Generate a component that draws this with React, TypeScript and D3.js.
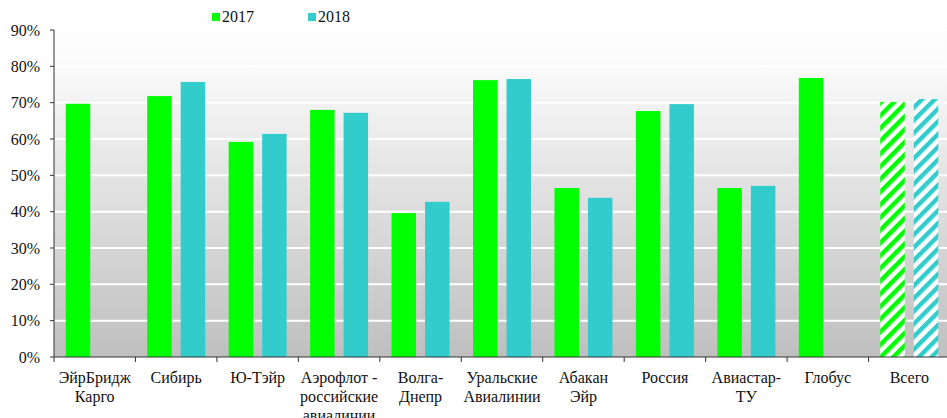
import React from "react";
import * as d3 from "d3";

const categories = [
  ["ЭйрБридж", "Карго"],
  ["Сибирь"],
  ["Ю-Тэйр"],
  ["Аэрофлот -", "российские", "авиалинии"],
  ["Волга-", "Днепр"],
  ["Уральские", "Авиалинии"],
  ["Абакан", "Эйр"],
  ["Россия"],
  ["Авиастар-", "ТУ"],
  ["Глобус"],
  ["Всего"],
];
const values2017: (number | null)[] = [69.7, 71.8, 59.2, 68.0, 39.6, 76.2, 46.5, 67.7, 46.5, 76.8, 70.2];
const values2018: (number | null)[] = [null, 75.7, 61.4, 67.2, 42.7, 76.5, 43.8, 69.6, 47.1, null, 71.0];
const yTicks = [0, 10, 20, 30, 40, 50, 60, 70, 80, 90];
const seriesNames = ["2017", "2018"];
const colors = ["#00ff00", "#33cccc"];

const W = 947;
const H = 418;
const left = 54;
const right = 950;
const top = 30;
const bottom = 357;

export default function App() {
  const x = d3.scaleBand<number>().domain(d3.range(categories.length)).range([left, right]).padding(0);
  const y = d3.scaleLinear().domain([0, 90]).range([bottom, top]);
  const bw = x.bandwidth();
  const barW = 24.5;
  const gap = 9;
  const outer = (bw - 2 * barW - gap) / 2;
  const font = "'Liberation Serif', serif";
  const ts = { fontFamily: font, fontSize: "16px" };
  const series = [values2017, values2018];
  const last = categories.length - 1;

  return (
    <svg width={W} height={H} style={{ position: "absolute", left: 0, top: 0 }}>
      <defs>
        <linearGradient id="bg" x1="0" y1="0" x2="0" y2="1">
          <stop offset="0" stopColor="#ffffff" />
          <stop offset="0.15" stopColor="#fbfbfb" />
          <stop offset="1" stopColor="#bfbfbf" />
        </linearGradient>
        {colors.map((c, i) => (
          <pattern key={i} id={`hatch${i}`} patternUnits="userSpaceOnUse" width={9} height={9} patternTransform="rotate(45)">
            <rect width={9} height={9} fill="#ffffff" />
            <rect width={4.5} height={9} fill={c} />
          </pattern>
        ))}
      </defs>
      <rect x={left} y={8} width={right - left} height={bottom - 8} fill="url(#bg)" />
      {yTicks.slice(1).map((t) => (
        <line key={t} x1={left} x2={right} y1={y(t)} y2={y(t)} stroke="#ffffff" strokeWidth={2} />
      ))}
      {series.map((vals, si) =>
        vals.map((v, i) =>
          v == null ? null : (
            <rect
              key={`${si}-${i}`}
              x={(x(i) as number) + outer + si * (barW + gap)}
              y={y(v)}
              width={barW}
              height={bottom - y(v)}
              fill={i === last ? `url(#hatch${si})` : colors[si]}
            />
          )
        )
      )}
      <line x1={left} x2={left} y1={top} y2={bottom} stroke="#333" strokeWidth={1} />
      <line x1={left} x2={right} y1={bottom} y2={bottom} stroke="#333" strokeWidth={1} />
      {yTicks.map((t) => (
        <g key={t}>
          <line x1={left - 4} x2={left} y1={y(t)} y2={y(t)} stroke="#333" />
          <text x={40} y={y(t)} dy="0.35em" textAnchor="end" style={ts} fill="#111">
            {t}%
          </text>
        </g>
      ))}
      {d3.range(categories.length + 1).map((i) => (
        <line key={i} x1={left + i * bw} x2={left + i * bw} y1={bottom} y2={bottom + 5} stroke="#333" />
      ))}
      {categories.map((lines, i) => (
        <text key={i} textAnchor="middle" style={ts} fill="#111">
          {lines.map((l, j) => (
            <tspan key={j} x={(x(i) as number) + bw / 2} y={383 + j * 19}>
              {l}
            </tspan>
          ))}
        </text>
      ))}
      {seriesNames.map((n, i) => (
        <g key={n} transform={`translate(${212 + i * 96},13)`}>
          <rect width={8} height={8} fill={colors[i]} />
          <text x={10} y={9} style={ts} fill="#111">
            {n}
          </text>
        </g>
      ))}
    </svg>
  );
}
